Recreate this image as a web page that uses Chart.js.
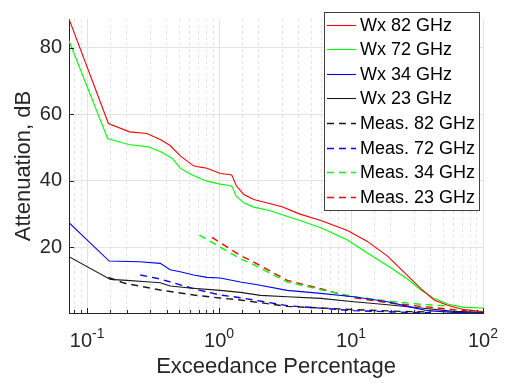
<!DOCTYPE html>
<html>
<head>
<meta charset="utf-8">
<script src="https://cdn.jsdelivr.net/npm/chart.js@4.4.0/dist/chart.umd.min.js"></script>
<style>
  html, body { margin: 0; padding: 0; background: #fff; }
  canvas { display: block; }
</style>
</head>
<body>
<canvas id="chart" width="505" height="383"></canvas>
<script>
//Series names (legend order)
const nomes = ['Wx 82 GHz', 'Wx 72 GHz', 'Wx 34 GHz', 'Wx 23 GHz', 'Meas. 82 GHz', 'Meas. 72 GHz', 'Meas. 34 GHz', 'Meas. 23 GHz']

//Exceedance percentage (x) and attenuation in dB (y)
const wx82X = [0.0729, 0.145, 0.21, 0.284, 0.358, 0.426, 0.508, 0.641, 0.72, 0.81, 1.02, 1.2, 1.25, 1.35, 1.54, 1.83, 2.45, 3.0, 4.1, 5.9, 9.4, 13.3, 18.9, 26.8, 33.8, 42.6, 53.8, 72, 100]
const wx82Y = [88.6, 57.2, 54.7, 54.2, 52.4, 50.6, 47.5, 44.5, 44.1, 43.8, 42.2, 41.9, 41.7, 38.5, 35.9, 34.4, 33.1, 32.2, 30.0, 28.1, 25.1, 21.8, 17.4, 11.5, 7.6, 4.2, 2.6, 1.3, 0.7]

const wx72X = [0.0729, 0.143, 0.206, 0.29, 0.358, 0.44, 0.508, 0.61, 0.72, 0.81, 1.02, 1.2, 1.25, 1.35, 1.54, 1.83, 2.45, 3.0, 4.1, 5.9, 9.4, 13.3, 18.9, 26.8, 33.8, 42.6, 53.8, 72, 100]
const wx72Y = [82.1, 52.7, 50.9, 50.2, 48.8, 46.8, 43.8, 42.0, 40.7, 39.9, 39.0, 38.6, 38.4, 35.4, 33.4, 32.1, 31.0, 29.8, 28.1, 25.9, 22.2, 18.3, 14.5, 10.5, 7.2, 4.7, 3.0, 2.0, 1.8]

const wx34X = [0.0729, 0.147, 0.25, 0.358, 0.426, 0.508, 0.641, 0.81, 1.02, 1.45, 2.0, 3.28, 5.87, 10.5, 18.9, 26.8, 38, 60, 100]
const wx34Y = [27.4, 15.9, 15.7, 15.2, 13.3, 12.7, 11.7, 11.0, 10.8, 9.6, 8.7, 7.1, 6.2, 5.2, 3.7, 2.3, 1.0, 0.5, 0.3]

const wx23X = [0.0729, 0.15, 0.2, 0.3, 0.358, 0.426, 0.6, 1.02, 1.45, 2.06, 3.28, 5.87, 10.5, 18.9, 33.8, 60, 100]
const wx23Y = [17.2, 10.4, 10.1, 9.6, 9.4, 8.4, 7.8, 7.1, 6.5, 5.6, 5.2, 4.7, 3.7, 2.8, 1.8, 0.8, 0.5]

const meas82X = [0.145, 0.19, 0.358, 0.641, 1.02, 1.45, 3.28, 10.5, 23.7, 40]
const meas82Y = [11.0, 9.3, 7.2, 5.7, 4.8, 4.2, 2.3, 1.3, 0.8, 0.6]

const meas72X = [0.253, 0.358, 0.641, 1.02, 1.45, 3.28, 10.5, 26.8, 40]
const meas72Y = [11.7, 10.5, 7.6, 5.7, 4.9, 2.5, 1.0, 0.5, 0.4]

const meas34X = [0.71, 1.02, 1.45, 1.83, 3.28, 5.87, 10.5, 18.9, 33.8, 55]
const meas34Y = [23.7, 20.1, 16.6, 14.8, 9.6, 7.3, 5.2, 3.9, 2.9, 2.4]

const meas23X = [0.885, 1.02, 1.45, 1.83, 3.28, 5.87, 10.5, 18.9, 33.8, 60, 75]
const meas23Y = [23.0, 21.4, 17.6, 15.6, 10.1, 7.6, 4.9, 3.4, 2.3, 1.3, 1.0]

//Axis ticks
const yTicks = [20, 40, 60, 80]
const xPotencias = [-1, 0, 1, 2]

const fonte = '"Liberation Sans", Arial, sans-serif'
const cinza = '#262626'

//Helpers
const pontos = (xs, ys) => xs.map((x, i) => ({x: x, y: ys[i]}))
const ehDecada = (v) => Math.abs(Math.log10(v) - Math.round(Math.log10(v))) < 1e-9

const series = [
    [wx82X, wx82Y, '#ff0000', []],
    [wx72X, wx72Y, '#00ff00', []],
    [wx34X, wx34Y, '#0000ff', []],
    [wx23X, wx23Y, '#1a1a1a', []],
    [meas82X, meas82Y, '#1a1a1a', [7, 5]],
    [meas72X, meas72Y, '#0000ff', [7, 5]],
    [meas34X, meas34Y, '#00ff00', [7, 5]],
    [meas23X, meas23Y, '#ff0000', [7, 5]]
]

const datasets = series.map((s, i) => ({
    label: nomes[i],
    data: pontos(s[0], s[1]),
    borderColor: s[2],
    backgroundColor: s[2],
    borderDash: s[3],
    borderWidth: s[3].length ? 1.4 : 1.1,
    showLine: true,
    pointRadius: 0,
    tension: 0
}))

//Inward tick marks and 10^n labels
const eixos = {
    id: 'eixos',
    afterDraw(chart) {
        const c = chart.ctx
        const xs = chart.scales.x
        const ys = chart.scales.y
        const a = chart.chartArea
        c.save()
        c.strokeStyle = cinza
        c.lineWidth = 1
        c.beginPath()
        xs.ticks.forEach(t => {
            if (t.value <= xs.min) return
            const px = Math.round(xs.getPixelForValue(t.value)) + 0.5
            const len = ehDecada(t.value) ? 5 : 3
            c.moveTo(px, a.bottom)
            c.lineTo(px, a.bottom - len)
        })
        ys.ticks.forEach(t => {
            const py = Math.round(ys.getPixelForValue(t.value)) + 0.5
            c.moveTo(a.left, py)
            c.lineTo(a.left + 5, py)
        })
        c.stroke()

        c.fillStyle = cinza
        c.textAlign = 'left'
        c.textBaseline = 'alphabetic'
        xPotencias.forEach(p => {
            const px = xs.getPixelForValue(Math.pow(10, p))
            const base = '10'
            const exp = String(p)
            c.font = '20px ' + fonte
            const wb = c.measureText(base).width
            c.font = '14px ' + fonte
            const we = c.measureText(exp).width
            const x0 = px - (wb + we) / 2
            c.font = '20px ' + fonte
            c.fillText(base, x0, 347)
            c.font = '14px ' + fonte
            c.fillText(exp, x0 + wb, 338)
        })
        c.restore()
    }
}

//Boxed legend inside the plot
const legenda = {
    id: 'legenda',
    afterDraw(chart) {
        const c = chart.ctx
        const x0 = 324.5, y0 = 12.5, w = 155, h = 198
        c.save()
        c.fillStyle = '#ffffff'
        c.fillRect(x0, y0, w, h)
        c.strokeStyle = '#404040'
        c.lineWidth = 1
        c.strokeRect(x0, y0, w, h)
        c.font = '18px ' + fonte
        c.textBaseline = 'middle'
        c.textAlign = 'left'
        chart.data.datasets.forEach((d, i) => {
            const yy = Math.round(24.5 + i * 24.6) + 0.5
            c.strokeStyle = d.borderColor
            c.lineWidth = d.borderWidth
            c.setLineDash(d.borderDash)
            c.beginPath()
            c.moveTo(327, yy)
            c.lineTo(356, yy)
            c.stroke()
            c.setLineDash([])
            c.fillStyle = '#000000'
            c.fillText(d.label, 360, yy + 1)
        })
        c.restore()
    }
}

//Chart
let ctx = document.getElementById('chart')
let chart = new Chart(ctx, {
    type: 'scatter',
    data: { datasets: datasets },
    options: {
        responsive: false,
        animation: false,
        layout: { padding: { left: 0, right: 22, top: 9, bottom: 0 } },
        plugins: {
            legend: { display: false },
            tooltip: { enabled: false }
        },
        scales: {
            x: {
                type: 'logarithmic',
                min: 0.0729,
                max: 100,
                afterFit: (s) => { s.height = 70 },
                ticks: { display: false, autoSkip: false },
                grid: {
                    drawTicks: false,
                    lineWidth: 1,
                    color: (c) => c.tick && ehDecada(c.tick.value) ? '#e3e3e3' : 'rgba(0,0,0,0.1)'
                },
                border: {
                    display: true,
                    color: cinza,
                    width: 1,
                    dash: (c) => c.tick && !ehDecada(c.tick.value) ? [3, 3] : []
                },
                title: {
                    display: true,
                    text: 'Exceedance Percentage',
                    color: cinza,
                    font: { family: fonte, size: 22, lineHeight: 1.2 },
                    padding: { top: 0, bottom: 2.5 }
                }
            },
            y: {
                type: 'linear',
                min: 0.3,
                max: 88.6,
                afterFit: (s) => { s.width = 69 },
                afterBuildTicks: (s) => { s.ticks = yTicks.map(v => ({value: v})) },
                ticks: {
                    color: cinza,
                    padding: 7,
                    font: { family: fonte, size: 20 }
                },
                grid: { drawTicks: false, color: '#e3e3e3', lineWidth: 1 },
                border: { display: true, color: cinza, width: 1 },
                title: {
                    display: true,
                    text: 'Attenuation, dB',
                    color: cinza,
                    font: { family: fonte, size: 22, lineHeight: 1.2 },
                    padding: { top: 11, bottom: 0 }
                }
            }
        }
    },
    plugins: [eixos, legenda]
});
</script>
</body>
</html>
